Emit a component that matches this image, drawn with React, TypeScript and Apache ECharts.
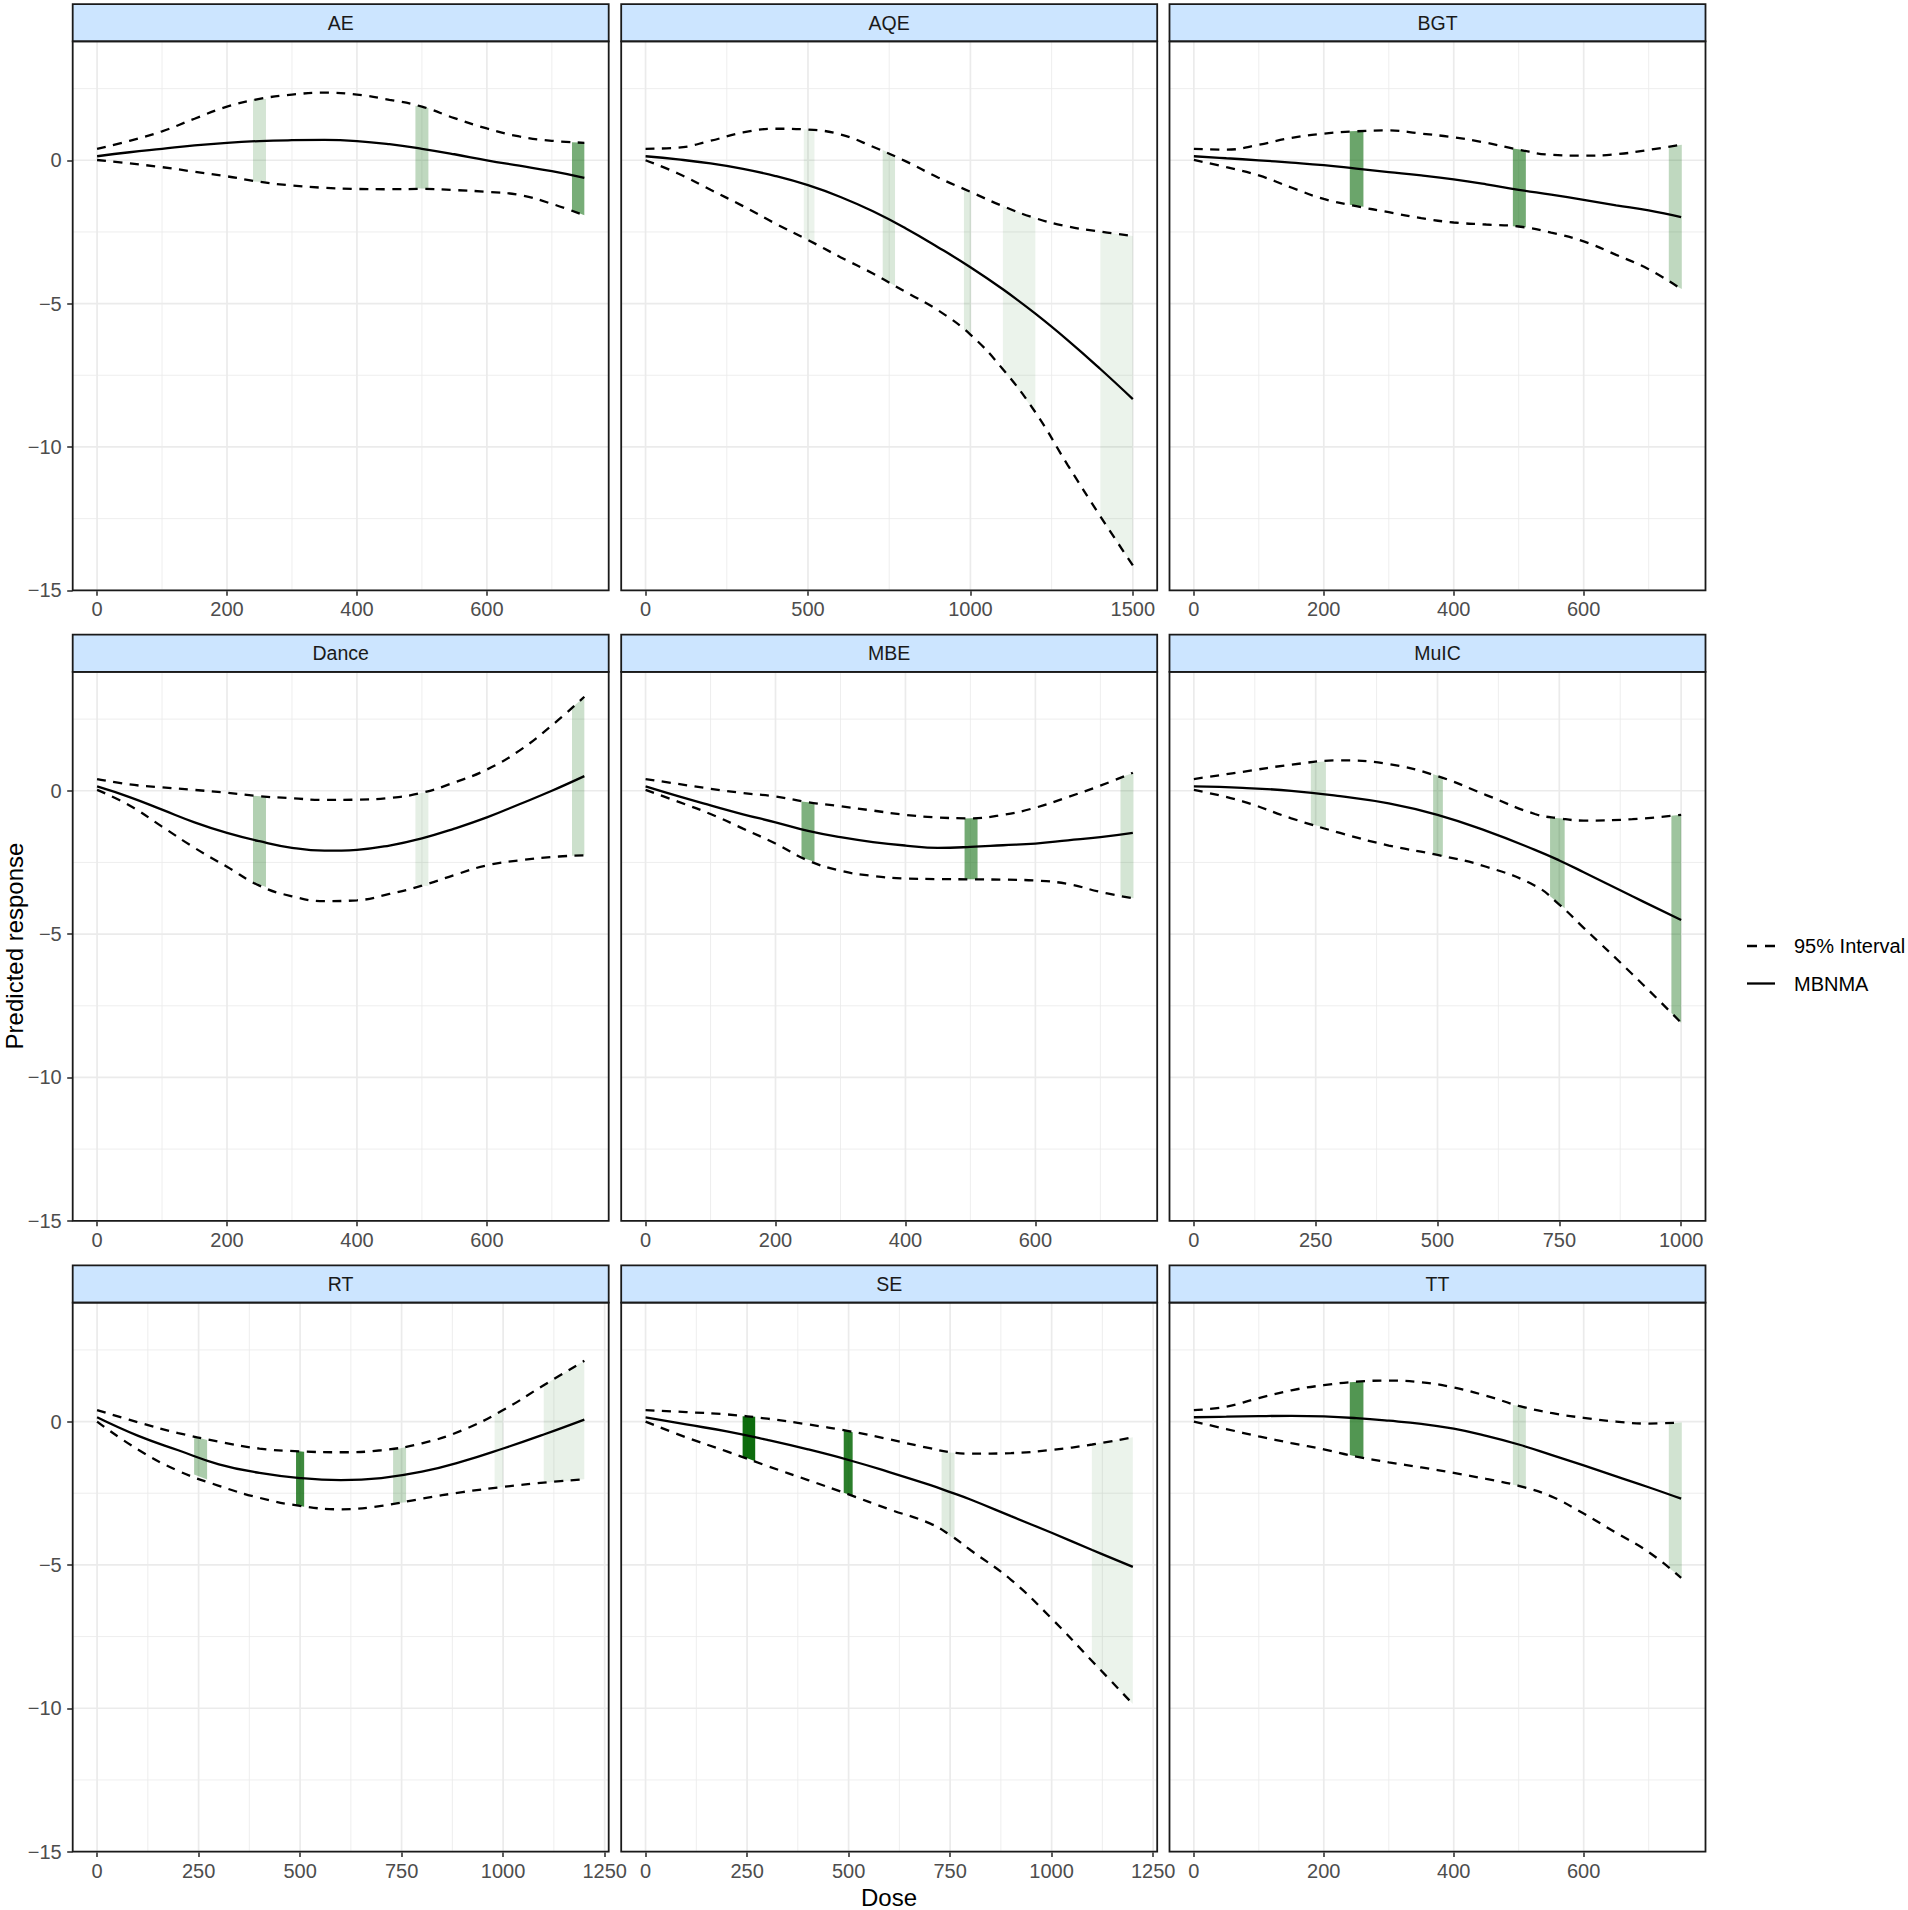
import React, { useEffect, useRef } from 'react';
import * as echarts from 'echarts';

// ---------- data ----------
const PANELS = ['AE', 'AQE', 'BGT', 'Dance', 'MBE', 'MuIC', 'RT', 'SE', 'TT'];

const AE_dose = [0, 50, 100, 150, 200, 250, 300, 350, 400, 450, 500, 550, 600, 650, 700, 750];
const AE_upper = [0.40, 0.68, 1.01, 1.45, 1.87, 2.14, 2.29, 2.36, 2.29, 2.11, 1.87, 1.47, 1.11, 0.83, 0.68, 0.61];
const AE_mean = [0.14, 0.28, 0.40, 0.52, 0.61, 0.67, 0.70, 0.71, 0.67, 0.56, 0.40, 0.21, 0.00, -0.19, -0.38, -0.61];
const AE_lower = [0.01, -0.11, -0.24, -0.40, -0.56, -0.75, -0.88, -0.96, -1.00, -1.01, -1.00, -1.04, -1.10, -1.21, -1.52, -1.92];
// [dose from, dose to, lower at from, upper at from, lower at to, upper at to, opacity]
const AE_bars = [
  [240, 260, -0.74, 2.14, -0.76, 2.14, 0.17],
  [490, 510, -0.98, 1.90, -0.99, 1.82, 0.25],
  [731, 750, -1.74, 0.63, -1.92, 0.61, 0.53],
];

const AQE_dose = [0, 100, 200, 300, 400, 500, 600, 700, 800, 900, 1000, 1100, 1200, 1300, 1400, 1500];
const AQE_upper = [0.40, 0.44, 0.68, 0.97, 1.10, 1.07, 0.90, 0.47, -0.03, -0.60, -1.10, -1.60, -2.02, -2.31, -2.49, -2.64];
const AQE_mean = [0.14, 0.03, -0.11, -0.30, -0.55, -0.87, -1.28, -1.78, -2.37, -3.03, -3.73, -4.50, -5.35, -6.28, -7.28, -8.33];
const AQE_lower = [0.00, -0.46, -1.03, -1.60, -2.21, -2.78, -3.38, -3.95, -4.59, -5.23, -6.08, -7.29, -8.79, -10.64, -12.42, -14.13];
const AQE_bars = [
  [487, 520, -2.70, 1.08, -2.90, 1.05, 0.08],
  [730, 768, -4.14, 0.36, -4.38, 0.17, 0.15],
  [980, 1002, -5.90, -1.00, -6.10, -1.11, 0.12],
  [1100, 1200, -7.29, -1.60, -8.79, -2.02, 0.08],
  [1400, 1500, -12.42, -2.49, -14.13, -2.64, 0.08],
];

const BGT_dose = [0, 50, 100, 150, 200, 250, 300, 350, 400, 450, 500, 550, 600, 650, 700, 750];
const BGT_upper = [0.40, 0.37, 0.54, 0.78, 0.93, 1.01, 1.04, 0.93, 0.80, 0.61, 0.37, 0.19, 0.16, 0.21, 0.36, 0.54];
const BGT_mean = [0.14, 0.07, 0.00, -0.08, -0.17, -0.29, -0.41, -0.53, -0.67, -0.84, -1.03, -1.20, -1.38, -1.57, -1.75, -1.98];
const BGT_lower = [0.01, -0.24, -0.53, -0.95, -1.35, -1.60, -1.81, -2.02, -2.17, -2.24, -2.31, -2.52, -2.83, -3.30, -3.80, -4.49];
const BGT_bars = [
  [240, 261, -1.55, 1.01, -1.62, 1.03, 0.58],
  [491, 511, -2.30, 0.41, -2.34, 0.35, 0.55],
  [731, 751, -4.25, 0.48, -4.49, 0.54, 0.25],
];

const Dance_dose = [0, 50, 100, 150, 200, 250, 300, 350, 400, 450, 500, 550, 600, 650, 700, 750];
const Dance_upper = [0.41, 0.22, 0.12, 0.03, -0.07, -0.19, -0.26, -0.32, -0.31, -0.25, -0.07, 0.29, 0.74, 1.40, 2.28, 3.28];
const Dance_mean = [0.15, -0.22, -0.66, -1.10, -1.47, -1.76, -1.99, -2.09, -2.06, -1.91, -1.66, -1.32, -0.93, -0.47, 0.00, 0.51];
const Dance_lower = [0.03, -0.51, -1.25, -1.99, -2.65, -3.31, -3.68, -3.85, -3.82, -3.60, -3.31, -2.94, -2.60, -2.43, -2.31, -2.25];
const Dance_bars = [
  [240, 260, -3.18, -0.17, -3.36, -0.21, 0.30],
  [490, 510, -3.28, -0.10, -3.33, -0.04, 0.10],
  [731, 750, -2.27, 2.90, -2.25, 3.28, 0.20],
];

const MBE_dose = [0, 50, 100, 150, 200, 250, 300, 350, 400, 450, 500, 550, 600, 650, 700, 750];
const MBE_upper = [0.41, 0.24, 0.07, -0.08, -0.20, -0.40, -0.54, -0.69, -0.84, -0.93, -0.96, -0.84, -0.59, -0.22, 0.18, 0.63];
const MBE_mean = [0.15, -0.19, -0.51, -0.82, -1.10, -1.40, -1.62, -1.79, -1.91, -1.99, -1.96, -1.90, -1.84, -1.73, -1.62, -1.47];
const MBE_lower = [0.03, -0.38, -0.81, -1.32, -1.84, -2.43, -2.79, -2.97, -3.06, -3.08, -3.09, -3.10, -3.13, -3.25, -3.53, -3.75];
const MBE_bars = [
  [240, 260, -2.33, -0.37, -2.48, -0.43, 0.50],
  [491, 511, -3.09, -0.97, -3.09, -0.95, 0.55],
  [731, 751, -3.67, 0.46, -3.75, 0.63, 0.17],
];

const MuIC_dose = [0, 100, 200, 300, 400, 500, 600, 700, 750, 800, 900, 1000];
const MuIC_upper = [0.41, 0.66, 0.91, 1.06, 0.93, 0.51, -0.15, -0.81, -0.96, -1.04, -0.99, -0.84];
const MuIC_mean = [0.15, 0.10, 0.00, -0.19, -0.44, -0.84, -1.40, -2.06, -2.43, -2.84, -3.68, -4.51];
const MuIC_lower = [0.03, -0.37, -0.96, -1.47, -1.91, -2.24, -2.65, -3.31, -3.97, -4.78, -6.40, -8.09];
const MuIC_bars = [
  [240, 271, -1.16, 0.98, -1.30, 1.03, 0.18],
  [491, 511, -2.21, 0.58, -2.28, 0.47, 0.28],
  [731, 761, -3.68, -0.93, -4.10, -0.98, 0.33],
  [980, 1000, -7.75, -0.87, -8.09, -0.84, 0.38],
];

const RT_dose = [0, 100, 200, 300, 400, 500, 600, 700, 800, 900, 1000, 1100, 1200];
const RT_upper = [0.40, -0.02, -0.40, -0.70, -0.94, -1.04, -1.07, -1.00, -0.76, -0.30, 0.40, 1.27, 2.12];
const RT_mean = [0.15, -0.49, -1.00, -1.49, -1.79, -1.97, -2.04, -1.97, -1.75, -1.39, -0.94, -0.45, 0.07];
const RT_lower = [0.00, -0.97, -1.72, -2.24, -2.66, -2.94, -3.06, -2.94, -2.69, -2.46, -2.28, -2.13, -2.01];
const RT_bars = [
  [239, 271, -1.85, -0.52, -2.02, -0.64, 0.33],
  [490, 510, -2.91, -1.03, -2.97, -1.05, 0.76],
  [729, 761, -2.86, -0.99, -2.81, -0.89, 0.22],
  [979, 1000, -2.32, 0.27, -2.28, 0.40, 0.08],
  [1100, 1200, -2.13, 1.27, -2.01, 2.12, 0.09],
];

const SE_dose = [0, 100, 200, 300, 400, 500, 600, 700, 750, 800, 900, 1000, 1100, 1200];
const SE_upper = [0.40, 0.33, 0.25, 0.10, -0.10, -0.33, -0.62, -0.93, -1.07, -1.12, -1.10, -0.99, -0.80, -0.55];
const SE_mean = [0.15, -0.10, -0.34, -0.64, -0.97, -1.34, -1.76, -2.21, -2.46, -2.72, -3.30, -3.88, -4.48, -5.07];
const SE_lower = [0.00, -0.55, -1.04, -1.55, -2.04, -2.54, -3.06, -3.55, -3.96, -4.48, -5.52, -6.87, -8.36, -9.85];
const SE_bars = [
  [239, 270, -1.22, 0.19, -1.38, 0.17, 0.95],
  [488, 510, -2.48, -0.31, -2.59, -0.37, 0.83],
  [729, 761, -3.80, -1.07, -4.10, -1.09, 0.12],
  [1099, 1200, -8.36, -0.80, -9.85, -0.55, 0.08],
];

const TT_dose = [0, 50, 100, 150, 200, 250, 300, 350, 400, 450, 500, 550, 600, 650, 700, 750];
const TT_upper = [0.40, 0.52, 0.82, 1.09, 1.27, 1.39, 1.43, 1.37, 1.19, 0.90, 0.55, 0.30, 0.13, 0.00, -0.07, -0.03];
const TT_mean = [0.15, 0.17, 0.19, 0.20, 0.18, 0.12, 0.03, -0.08, -0.25, -0.50, -0.80, -1.16, -1.53, -1.91, -2.29, -2.69];
const TT_lower = [0.00, -0.26, -0.52, -0.75, -0.97, -1.22, -1.42, -1.60, -1.79, -2.00, -2.24, -2.61, -3.21, -3.88, -4.55, -5.45];
const TT_bars = [
  [240, 261, -1.17, 1.37, -1.28, 1.40, 0.68],
  [491, 511, -2.20, 0.58, -2.29, 0.52, 0.18],
  [731, 751, -5.10, -0.06, -5.45, -0.03, 0.18],
];

const DOSE_MAX = [750, 1500, 750, 750, 750, 1000, 1200, 1200, 750];
const X_TICKS = [
  [0, 200, 400, 600], [0, 500, 1000, 1500], [0, 200, 400, 600],
  [0, 200, 400, 600], [0, 200, 400, 600], [0, 250, 500, 750, 1000],
  [0, 250, 500, 750, 1000, 1250], [0, 250, 500, 750, 1000, 1250], [0, 200, 400, 600],
];
const X_MINOR = [
  [100, 300, 500, 700], [250, 750, 1250], [100, 300, 500, 700],
  [100, 300, 500, 700], [100, 300, 500, 700], [125, 375, 625, 875],
  [125, 375, 625, 875, 1125], [125, 375, 625, 875, 1125], [100, 300, 500, 700],
];
const Y_TICKS = [-15, -10, -5, 0];
const Y_MINOR = [-12.5, -7.5, -2.5, 2.5];
const Y_MIN = -15;
const Y_MAX = 4.15;

const LEGEND_LABELS = ['95% Interval', 'MBNMA'];
const X_TITLE = 'Dose';
const Y_TITLE = 'Predicted response';

const DATA: Record<string, { dose: number[]; upper: number[]; mean: number[]; lower: number[]; bars: number[][] }> = {
  AE: { dose: AE_dose, upper: AE_upper, mean: AE_mean, lower: AE_lower, bars: AE_bars },
  AQE: { dose: AQE_dose, upper: AQE_upper, mean: AQE_mean, lower: AQE_lower, bars: AQE_bars },
  BGT: { dose: BGT_dose, upper: BGT_upper, mean: BGT_mean, lower: BGT_lower, bars: BGT_bars },
  Dance: { dose: Dance_dose, upper: Dance_upper, mean: Dance_mean, lower: Dance_lower, bars: Dance_bars },
  MBE: { dose: MBE_dose, upper: MBE_upper, mean: MBE_mean, lower: MBE_lower, bars: MBE_bars },
  MuIC: { dose: MuIC_dose, upper: MuIC_upper, mean: MuIC_mean, lower: MuIC_lower, bars: MuIC_bars },
  RT: { dose: RT_dose, upper: RT_upper, mean: RT_mean, lower: RT_lower, bars: RT_bars },
  SE: { dose: SE_dose, upper: SE_upper, mean: SE_mean, lower: SE_lower, bars: SE_bars },
  TT: { dose: TT_dose, upper: TT_upper, mean: TT_mean, lower: TT_lower, bars: TT_bars },
};

// ---------- layout ----------
const W = 1908;
const H = 1910;
const COL_X = [72.7, 621.2, 1169.5];
const PW = 536;
const ROW_Y = [41.3, 671.8, 1302.6];
const PH = 549;
const STRIP_H = 37.2;
const FONT = '"Liberation Sans", Arial, Helvetica, sans-serif';
const DASH = [9, 7.5];
const LW = 2.3;

const fmtNum = (v: number) => (v < 0 ? '\u2212' + Math.abs(v) : String(v));

function buildOption() {
  const grids: any[] = [];
  const xAxes: any[] = [];
  const yAxes: any[] = [];
  const series: any[] = [];
  const graphics: any[] = [];

  PANELS.forEach((name, i) => {
    const col = i % 3;
    const row = Math.floor(i / 3);
    const left = COL_X[col];
    const top = ROW_Y[row];
    const d = DATA[name];
    const xmax = DOSE_MAX[i];
    const xMin = -0.05 * xmax;
    const xMax = 1.05 * xmax;

    grids.push({ left, top, width: PW, height: PH, show: false, containLabel: false });

    xAxes.push({
      type: 'value',
      gridIndex: i,
      position: 'bottom',
      min: xMin,
      max: xMax,
      axisLine: { show: false, onZero: false },
      splitLine: { show: false },
      axisTick: {
        show: true,
        customValues: X_TICKS[i],
        length: 5.5,
        lineStyle: { color: '#333333', width: 1.6 },
      },
      axisLabel: {
        show: true,
        customValues: X_TICKS[i],
        margin: 9,
        fontSize: 20,
        fontFamily: FONT,
        color: '#4d4d4d',
        formatter: (v: number) => fmtNum(v),
        hideOverlap: false,
      },
    });

    yAxes.push({
      type: 'value',
      gridIndex: i,
      position: 'left',
      min: Y_MIN,
      max: Y_MAX,
      axisLine: { show: false, onZero: false },
      splitLine: { show: false },
      axisTick: {
        show: col === 0,
        customValues: Y_TICKS,
        length: 5.5,
        lineStyle: { color: '#333333', width: 1.6 },
      },
      axisLabel: {
        show: col === 0,
        customValues: Y_TICKS,
        margin: 11,
        fontSize: 20,
        fontFamily: FONT,
        color: '#4d4d4d',
        formatter: (v: number) => fmtNum(v),
      },
    });

    // grid lines: [x, y, isVertical, isMajor]
    const gl: number[][] = [];
    X_TICKS[i].forEach((v) => { if (v >= xMin && v <= xMax) gl.push([v, 0, 1, 1]); });
    X_MINOR[i].forEach((v) => { if (v >= xMin && v <= xMax) gl.push([v, 0, 1, 0]); });
    Y_TICKS.forEach((v) => gl.push([0, v, 0, 1]));
    Y_MINOR.forEach((v) => gl.push([0, v, 0, 0]));

    series.push({
      type: 'custom',
      xAxisIndex: i,
      yAxisIndex: i,
      silent: true,
      clip: false,
      z: 1,
      data: gl,
      renderItem: (params: any, api: any) => {
        const cs = params.coordSys;
        const isV = api.value(2);
        const major = api.value(3);
        const style = { stroke: '#ebebeb', lineWidth: major ? 1.7 : 0.85 };
        if (isV) {
          const p = api.coord([api.value(0), 0]);
          return { type: 'line', shape: { x1: p[0], y1: cs.y, x2: p[0], y2: cs.y + cs.height }, style };
        }
        const p = api.coord([0, api.value(1)]);
        return { type: 'line', shape: { x1: cs.x, y1: p[1], x2: cs.x + cs.width, y2: p[1] }, style };
      },
    });

    series.push({
      type: 'custom',
      xAxisIndex: i,
      yAxisIndex: i,
      silent: true,
      z: 2,
      data: d.bars.map((b) => [b[0], b[2], b[1], b[3], b[4], b[5], b[6]]),
      renderItem: (params: any, api: any) => {
        const x0 = api.value(0);
        const lo0 = api.value(1);
        const x1 = api.value(2);
        const hi0 = api.value(3);
        const lo1 = api.value(4);
        const hi1 = api.value(5);
        const a = api.value(6);
        const pts = [api.coord([x0, lo0]), api.coord([x0, hi0]), api.coord([x1, hi1]), api.coord([x1, lo1])];
        return { type: 'polygon', shape: { points: pts }, style: { fill: `rgba(0,100,0,${a})`, stroke: 'none' } };
      },
    });

    const lineBase = {
      type: 'line',
      xAxisIndex: i,
      yAxisIndex: i,
      showSymbol: false,
      symbol: 'none',
      smooth: 0.45,
      silent: true,
      z: 3,
    };
    series.push({
      ...lineBase,
      name: LEGEND_LABELS[0],
      data: d.dose.map((x, k) => [x, d.upper[k]]),
      lineStyle: { color: '#000', width: LW, type: DASH },
    });
    series.push({
      ...lineBase,
      name: LEGEND_LABELS[0],
      data: d.dose.map((x, k) => [x, d.lower[k]]),
      lineStyle: { color: '#000', width: LW, type: DASH },
    });
    series.push({
      ...lineBase,
      name: LEGEND_LABELS[1],
      data: d.dose.map((x, k) => [x, d.mean[k]]),
      lineStyle: { color: '#000', width: LW, type: 'solid' },
    });

    // strip
    graphics.push({
      type: 'rect',
      z: 100,
      shape: { x: left, y: top - STRIP_H, width: PW, height: STRIP_H },
      style: { fill: '#cce5ff', stroke: '#1a1a1a', lineWidth: 1.8 },
    });
    graphics.push({
      type: 'text',
      z: 101,
      x: left + PW / 2,
      y: top - STRIP_H / 2,
      style: {
        text: name,
        fontSize: 19.5,
        fontFamily: FONT,
        fill: '#1a1a1a',
        align: 'center',
        verticalAlign: 'middle',
        textAlign: 'center',
        textVerticalAlign: 'middle',
      },
    });
    // panel border
    graphics.push({
      type: 'rect',
      z: 100,
      shape: { x: left, y: top, width: PW, height: PH },
      style: { fill: 'none', stroke: '#1a1a1a', lineWidth: 1.8 },
    });
  });

  // legend
  const legX = 1747;
  const legY = [946, 983.5];
  graphics.push({
    type: 'line', z: 100,
    shape: { x1: legX, y1: legY[0], x2: legX + 28, y2: legY[0] },
    style: { stroke: '#000', lineWidth: LW, lineDash: [10, 8] },
  });
  graphics.push({
    type: 'line', z: 100,
    shape: { x1: legX, y1: legY[1], x2: legX + 28, y2: legY[1] },
    style: { stroke: '#000', lineWidth: LW },
  });
  LEGEND_LABELS.forEach((t, k) => {
    graphics.push({
      type: 'text', z: 100, x: 1794, y: legY[k],
      style: {
        text: t, fontSize: 20, fontFamily: FONT, fill: '#000',
        align: 'left', verticalAlign: 'middle', textAlign: 'left', textVerticalAlign: 'middle',
      },
    });
  });

  // axis titles
  graphics.push({
    type: 'text', z: 100, x: 889, y: 1897,
    style: {
      text: X_TITLE, fontSize: 24, fontFamily: FONT, fill: '#000',
      align: 'center', verticalAlign: 'middle', textAlign: 'center', textVerticalAlign: 'middle',
    },
  });
  graphics.push({
    type: 'text', z: 100, x: 14, y: 946, rotation: Math.PI / 2,
    style: {
      text: Y_TITLE, fontSize: 24, fontFamily: FONT, fill: '#000',
      align: 'center', verticalAlign: 'middle', textAlign: 'center', textVerticalAlign: 'middle',
    },
  });

  return {
    animation: false,
    backgroundColor: '#ffffff',
    grid: grids,
    xAxis: xAxes,
    yAxis: yAxes,
    series,
    graphic: graphics,
  };
}

export default function App() {
  const ref = useRef<HTMLDivElement | null>(null);
  useEffect(() => {
    if (!ref.current) return;
    const chart = echarts.init(ref.current, undefined, { renderer: 'svg', width: W, height: H });
    chart.setOption(buildOption() as any);
    return () => chart.dispose();
  }, []);
  return (
    <div
      ref={ref}
      style={{ position: 'absolute', left: 0, top: 0, width: W, height: H, background: '#fff' }}
    />
  );
}
